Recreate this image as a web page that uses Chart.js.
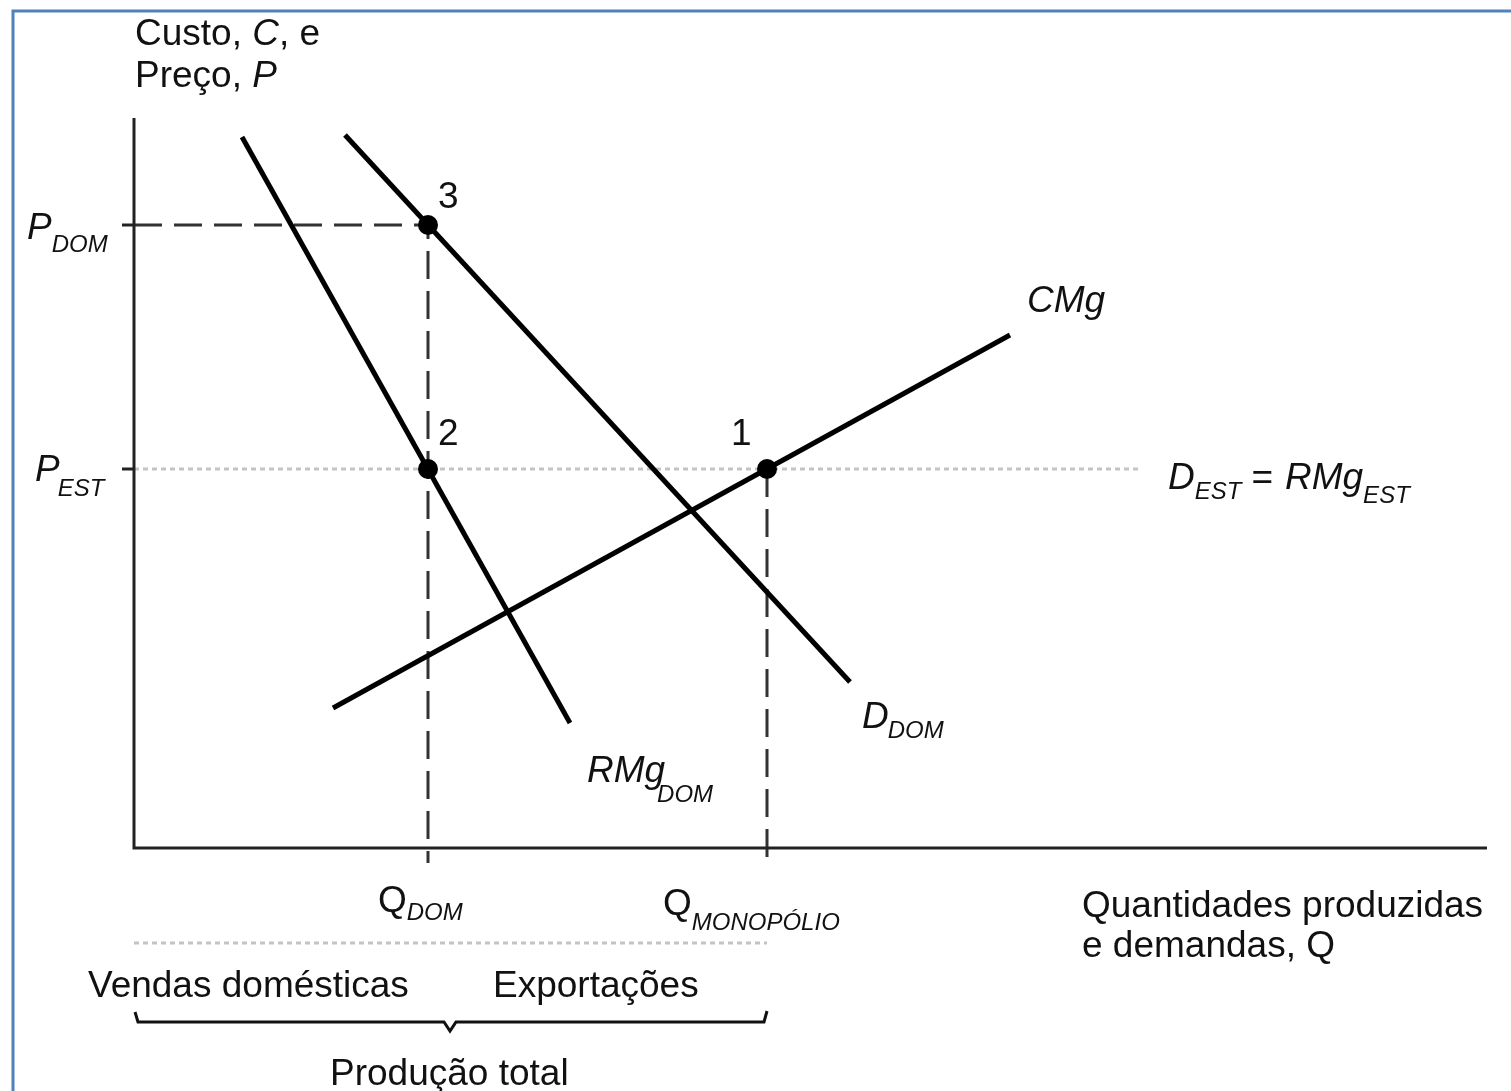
<!DOCTYPE html>
<html>
<head>
<meta charset="utf-8">
<script src="https://cdn.jsdelivr.net/npm/chart.js@4.4.0/dist/chart.umd.min.js"></script>
<style>
  html, body { margin: 0; padding: 0; background: #fff; overflow: hidden; }
  canvas { display: block; }
</style>
</head>
<body>
<canvas id="myChart" width="1511" height="1091"></canvas>
<script>
// curve end points (arbitrary units)
const rmgX = [10.8, 43.6];
const rmgY = [71.1, 12.5];
const dDomX = [21.1, 71.6];
const dDomY = [71.3, 16.6];
const cmgX = [19.9, 87.6];
const cmgY = [14.0, 51.3];

// price levels: P_DOM, P_EST
const priceLevels = [62.3, 37.9];
// quantities: Q_DOM, Q_MONOPOLIO
const quantityLevels = [29.4, 63.3];
// equilibrium points, labelled 3, 2, 1
const pointLabels = ['3', '2', '1'];
const pointX = [quantityLevels[0], quantityLevels[0], quantityLevels[1]];
const pointY = [priceLevels[0], priceLevels[1], priceLevels[1]];

const xMax = 135;
const yMax = 73;
const dEstEnd = 100.4;   // where the grey D_EST line stops

const P_DOM = priceLevels[0], P_EST = priceLevels[1];
const Q_DOM = quantityLevels[0], Q_MON = quantityLevels[1];

function pts(xs, ys) { return xs.map((x, i) => ({ x: x, y: ys[i] })); }

const FAM = '"Liberation Sans", Arial, sans-serif';
const F = '37px ' + FAM;
const FI = 'italic 37px ' + FAM;
const FS = 'italic 24px ' + FAM;

function drawParts(ctx, x, y, parts) {
  parts.forEach(p => {
    ctx.font = p[1];
    ctx.fillText(p[0], x, y + (p[2] || 0));
    x += ctx.measureText(p[0]).width + (p[3] || 0);
  });
}

const labelsPlugin = {
  id: 'labels',
  beforeDraw(chart) {
    const ctx = chart.ctx;
    ctx.save();
    ctx.fillStyle = '#fff';
    ctx.fillRect(0, 0, chart.width, chart.height);
    // blue frame (top and left only)
    ctx.strokeStyle = '#4f81bd';
    ctx.lineWidth = 3;
    ctx.beginPath();
    ctx.moveTo(13, chart.height);
    ctx.lineTo(13, 11);
    ctx.lineTo(chart.width, 11);
    ctx.stroke();
    ctx.restore();
  },
  afterDatasetsDraw(chart) {
    const ctx = chart.ctx;
    const xs = chart.scales.x, ys = chart.scales.y;
    const px = v => xs.getPixelForValue(v);
    const py = v => ys.getPixelForValue(v);
    ctx.save();
    ctx.fillStyle = '#111';
    ctx.textBaseline = 'alphabetic';

    drawParts(ctx, 135, 45, [['Custo, ', F], ['C', FI], [', e', F]]);
    drawParts(ctx, 135, 87, [['Preço, ', F], ['P', FI]]);

    drawParts(ctx, 27, py(P_DOM) + 14, [['P', FI], ['DOM', FS, 13]]);
    drawParts(ctx, 35, py(P_EST) + 12, [['P', FI, 0, -2], ['EST', FS, 15]]);

    // point numbers
    ctx.font = F;
    ctx.fillText(pointLabels[0], px(pointX[0]) + 10, py(pointY[0]) - 17);
    ctx.fillText(pointLabels[1], px(pointX[1]) + 10, py(pointY[1]) - 24);
    ctx.fillText(pointLabels[2], px(pointX[2]) - 36, py(pointY[2]) - 24);

    drawParts(ctx, 1027, 312, [['CMg', FI]]);
    drawParts(ctx, 1168, py(P_EST) + 20, [['D', FI], ['EST', FS, 10, 10], ['=', F, 0, 12], ['RMg', FI], ['EST', FS, 14]]);
    drawParts(ctx, 862, 728, [['D', FI, 0, -1], ['DOM', FS, 10]]);
    drawParts(ctx, 587, 782, [['RMg', FI, 0, -8], ['DOM', FS, 20]]);

    drawParts(ctx, px(Q_DOM) - 50, 912, [['Q', F], ['DOM', FS, 8]]);
    drawParts(ctx, px(Q_MON) - 104, 915, [['Q', F], ['MONOPÓLIO', FS, 15]]);

    drawParts(ctx, 1082, 917, [['Quantidades produzidas', F]]);
    drawParts(ctx, 1082, 957, [['e demandas, ', F], ['Q', F]]);

    drawParts(ctx, 88, 997, [['Vendas domésticas', F]]);
    drawParts(ctx, 493, 997, [['Exportações', F]]);
    drawParts(ctx, 330, 1085, [['Produção total', F]]);
    ctx.restore();
  }
};

const braceTip = 31.6;
const datasets = [
  { // equilibrium points
    data: pts(pointX, pointY), showLine: false,
    pointRadius: 10, pointBackgroundColor: '#000', pointBorderWidth: 0, order: 0
  },
  { data: pts(rmgX, rmgY), borderColor: '#000', borderWidth: 5, order: 1 },
  { data: pts(dDomX, dDomY), borderColor: '#000', borderWidth: 5, order: 1 },
  { data: pts(cmgX, cmgY), borderColor: '#000', borderWidth: 5, order: 1 },
  { // axes
    data: [{ x: 0, y: yMax }, { x: 0, y: 0 }, { x: xMax + 0.3, y: 0 }],
    borderColor: '#222', borderWidth: 3, order: 1
  },
  { // P_DOM / Q_DOM dashed guides
    data: [{ x: 0, y: P_DOM }, { x: Q_DOM, y: P_DOM }, { x: Q_DOM, y: -1.5 }],
    borderColor: '#333', borderWidth: 3, borderDash: [28, 12], order: 2
  },
  { // Q_MONOPOLIO dashed guide
    data: [{ x: Q_MON, y: P_EST }, { x: Q_MON, y: -1.7 }],
    borderColor: '#333', borderWidth: 3, borderDash: [28, 12], order: 2
  },
  { data: [{ x: -1.2, y: P_DOM }, { x: 0, y: P_DOM }], borderColor: '#222', borderWidth: 3, order: 2 },
  { data: [{ x: -1.2, y: P_EST }, { x: 0, y: P_EST }], borderColor: '#222', borderWidth: 3, order: 2 },
  { // D_EST = RMg_EST
    data: [{ x: 0, y: P_EST }, { x: dEstEnd, y: P_EST }],
    borderColor: '#c4c4c4', borderWidth: 3, borderDash: [5, 4], order: 3
  },
  { // dotted rule under the Q labels
    data: [{ x: 0, y: -9.5 }, { x: Q_MON, y: -9.5 }],
    borderColor: '#c4c4c4', borderWidth: 3, borderDash: [5, 4], order: 3
  },
  { // brace
    data: [{ x: 0.1, y: -16.4 }, { x: 0.4, y: -17.4 }, { x: braceTip - 0.6, y: -17.4 },
           { x: braceTip, y: -18.3 }, { x: braceTip + 0.6, y: -17.4 },
           { x: Q_MON - 0.3, y: -17.4 }, { x: Q_MON, y: -16.3 }],
    borderColor: '#111', borderWidth: 3, order: 2
  }
];
datasets.forEach(d => {
  d.clip = false;
  d.tension = 0;
  if (d.showLine !== false) { d.showLine = true; d.pointRadius = 0; }
  d.fill = false;
});

const ctx = document.getElementById('myChart').getContext('2d');
const myChart = new Chart(ctx, {
  type: 'scatter',
  data: { datasets: datasets },
  options: {
    responsive: false,
    animation: false,
    events: [],
    layout: { padding: { left: 134, right: 27, top: 118, bottom: 243 } },
    scales: {
      x: { type: 'linear', min: 0, max: xMax, display: false },
      y: { type: 'linear', min: 0, max: yMax, display: false }
    },
    plugins: { legend: { display: false }, tooltip: { enabled: false } }
  },
  plugins: [labelsPlugin]
});
</script>
</body>
</html>
